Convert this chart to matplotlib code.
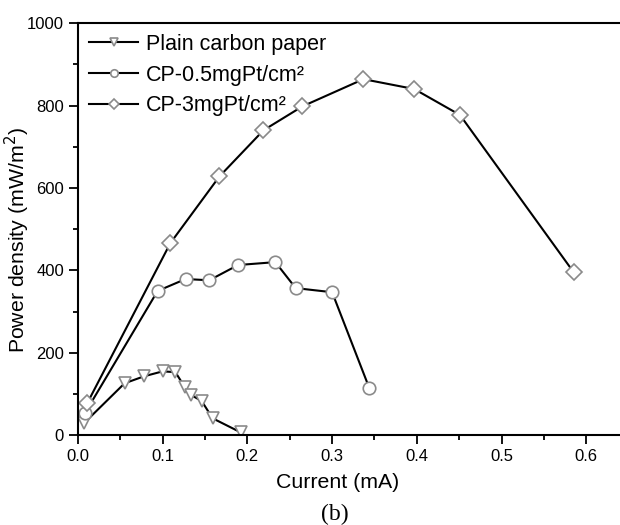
import matplotlib
matplotlib.use("Agg")
import matplotlib.pyplot as plt
from matplotlib.ticker import MultipleLocator

plt.rcParams['font.family'] = ['Liberation Sans', 'DejaVu Sans']

# Data
plain_x = [0.007, 0.055, 0.078, 0.100, 0.115, 0.126, 0.134, 0.146, 0.159, 0.192]
plain_y = [29, 126, 143, 155, 153, 117, 97, 83, 41, 7]

cp05_x = [0.008, 0.094, 0.127, 0.155, 0.189, 0.233, 0.257, 0.300, 0.344]
cp05_y = [53, 350, 379, 376, 413, 420, 357, 347, 114]

cp3_x = [0.011, 0.109, 0.167, 0.219, 0.265, 0.337, 0.397, 0.451, 0.585]
cp3_y = [78, 466, 628, 740, 798, 864, 840, 777, 396]

labels = ["Plain carbon paper", "CP-0.5mgPt/cm²", "CP-3mgPt/cm²"]

fig = plt.figure(figsize=(6.2, 5.25), dpi=100)
ax = fig.add_axes([0.1258, 0.171, 0.888, 0.785])

mk = dict(markerfacecolor='white', markeredgecolor='#8a8a8a', markeredgewidth=1.2,
          color='black', linewidth=1.5, markersize=9)
ax.plot(plain_x, plain_y, marker='v', label=labels[0], **mk)
ax.plot(cp05_x, cp05_y, marker='o', label=labels[1], **mk)
ax.plot(cp3_x, cp3_y, marker='D', label=labels[2], **{**mk, 'markersize': 8})

ax.set_xlim(0, 0.65)
ax.set_ylim(0, 1000)
ax.xaxis.set_major_locator(MultipleLocator(0.1))
ax.xaxis.set_minor_locator(MultipleLocator(0.05))
ax.yaxis.set_major_locator(MultipleLocator(200))
ax.yaxis.set_minor_locator(MultipleLocator(100))
ax.tick_params(which='major', direction='out', length=6.5, width=1.3, labelsize=12,
               colors='black', pad=3.6)
ax.tick_params(which='minor', direction='out', length=3.5, width=1.3)
ax.set_xticks([0, 0.1, 0.2, 0.3, 0.4, 0.5, 0.6])
ax.set_xticklabels(["0.0", "0.1", "0.2", "0.3", "0.4", "0.5", "0.6"])
for s in ax.spines.values():
    s.set_linewidth(1.5)

ax.set_xlabel("Current (mA)", fontsize=15.3)
ax.xaxis.set_label_coords(0.472, -0.092)
fig.text(17 / 620, 1 - 240 / 525, "Power density (mW/m$^2$)", fontsize=15.3,
         rotation=90, ha='center', va='center')

leg = ax.legend(loc='upper left', frameon=False, fontsize=15.5, handlelength=2.3,
                handletextpad=0.35, labelspacing=0.45, markerscale=0.6,
                borderaxespad=0.1, bbox_to_anchor=(0.0, 1.0))

fig.text(0.54, 0.021, "(b)", fontsize=17, family='Liberation Serif', ha='center', va='center')

fig.savefig("out.png", dpi=100)
